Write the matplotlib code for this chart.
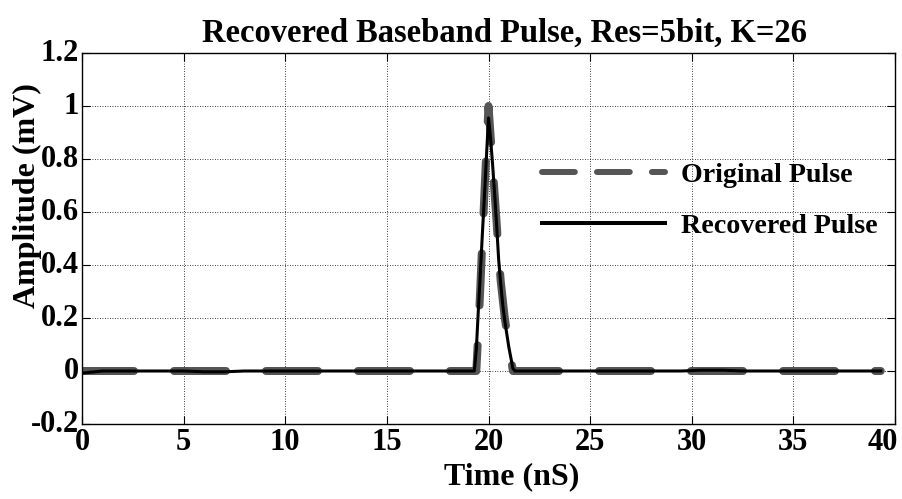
import numpy as np
import matplotlib.pyplot as plt
import matplotlib.transforms as mtransforms
from matplotlib.lines import Line2D

# time axis (nS) and pulse amplitudes (mV)
time_orig = [0, 19.3, 19.4, 19.5, 19.6, 19.7, 19.8, 19.9, 20.0, 20.1, 20.2,
             20.3, 20.4, 20.5, 20.6, 20.7, 20.8, 20.9, 21.0, 21.1, 21.2, 21.3, 39.3]
amp_orig = [0, 0, 0, 0.15, 0.32, 0.50, 0.67, 0.84, 1.00, 0.89, 0.78,
            0.67, 0.56, 0.44, 0.34, 0.27, 0.20, 0.15, 0.10, 0.05, 0.0, 0, 0]

time_rec = [0, 0.5, 1.0, 1.5, 5.0, 6.0, 7.0, 8.0, 19.3, 19.4, 19.5, 19.6, 19.7,
            19.8, 19.9, 20.0, 20.1, 20.2, 20.3, 20.4, 20.5, 20.6, 20.7, 20.8,
            20.9, 21.0, 21.1, 21.2, 21.3, 29.5, 30.5, 31.5, 32.5, 39.3]
amp_rec = [-0.008, -0.004, 0.0, 0.0, 0.0, -0.003, -0.003, 0.0, 0.0, 0.08, 0.23,
           0.37, 0.52, 0.66, 0.81, 0.955, 0.88, 0.78, 0.67, 0.55, 0.42, 0.33,
           0.25, 0.19, 0.14, 0.09, 0.05, 0.01, 0.0, 0.0, 0.003, 0.003, 0.0, 0.0]

xticks = [0, 5, 10, 15, 20, 25, 30, 35, 40]
yticks = [-0.2, 0, 0.2, 0.4, 0.6, 0.8, 1.0, 1.2]
ytick_labels = ['-0.2', '0', '0.2', '0.4', '0.6', '0.8', '1', '1.2']

plt.rcParams['font.family'] = 'Liberation Serif'
plt.rcParams['font.weight'] = 'bold'

fig = plt.figure(figsize=(9.03, 4.99), dpi=100)
ax = fig.add_axes([82 / 903, 75 / 499, 813 / 903, 371 / 499])

gray = '#555555'
orig_line, = ax.plot(time_orig, amp_orig, color=gray, lw=5.76,
                     dashes=(6.5, 5.0), dash_capstyle='round',
                     solid_capstyle='round')
rec_line, = ax.plot(time_rec, amp_rec, color='black', lw=2.2)

ax.set_xlim(0, 40)
ax.set_ylim(-0.2, 1.2)
ax.set_xticks(xticks)
ax.set_yticks(yticks)
ax.set_yticklabels(ytick_labels)
ax.tick_params(direction='in', length=6, width=0.8, top=True, right=True,
               labelsize=22)
ax.tick_params(axis='x', pad=3)
ax.tick_params(axis='y', pad=2)
for sp in ax.spines.values():
    sp.set_linewidth(1.0)
ax.grid(True, color='black', linestyle=(0, (1, 2)), linewidth=0.6)

# y tick labels sit a little above their ticks
lift = mtransforms.ScaledTranslation(0, 3 / 100, fig.dpi_scale_trans)
for lbl in ax.get_yticklabels():
    lbl.set_transform(lbl.get_transform() + lift)

# keep the last x tick label inside the figure
last = ax.get_xticklabels()[-1]
last.set_horizontalalignment('right')
last.set_transform(last.get_transform() +
                   mtransforms.ScaledTranslation(3 / 100, 0, fig.dpi_scale_trans))

ax.set_title('Recovered Baseband Pulse, Res=5bit, K=26', fontsize=23.5,
             fontweight='bold', pad=8, x=(505 - 82) / 813)
ax.set_xlabel('Time (nS)', fontsize=23, fontweight='bold')
ax.xaxis.set_label_coords((512 - 82) / 813, -(462 - 424) / 371)
ax.set_ylabel('Amplitude (mV)', fontsize=23, fontweight='bold')
ax.yaxis.set_label_coords(-(82 - 42) / 813, (424 - 196) / 371)

# legend handles drawn with their own dash spacing
h_orig = Line2D([], [], color=gray, lw=4.3, dashes=(5.5, 3.7),
                dash_capstyle='round')
h_rec = Line2D([], [], color='black', lw=2.9)
ax.legend([h_orig, h_rec], ['Original Pulse', 'Recovered Pulse'],
          loc='upper left', bbox_to_anchor=(542 / 903, 1 - 162 / 499),
          bbox_transform=fig.transFigure, frameon=False, fontsize=20.2,
          handlelength=4.4, handletextpad=0.55, labelspacing=0.9,
          borderpad=0, borderaxespad=0)

fig.savefig('out.png', dpi=100)
